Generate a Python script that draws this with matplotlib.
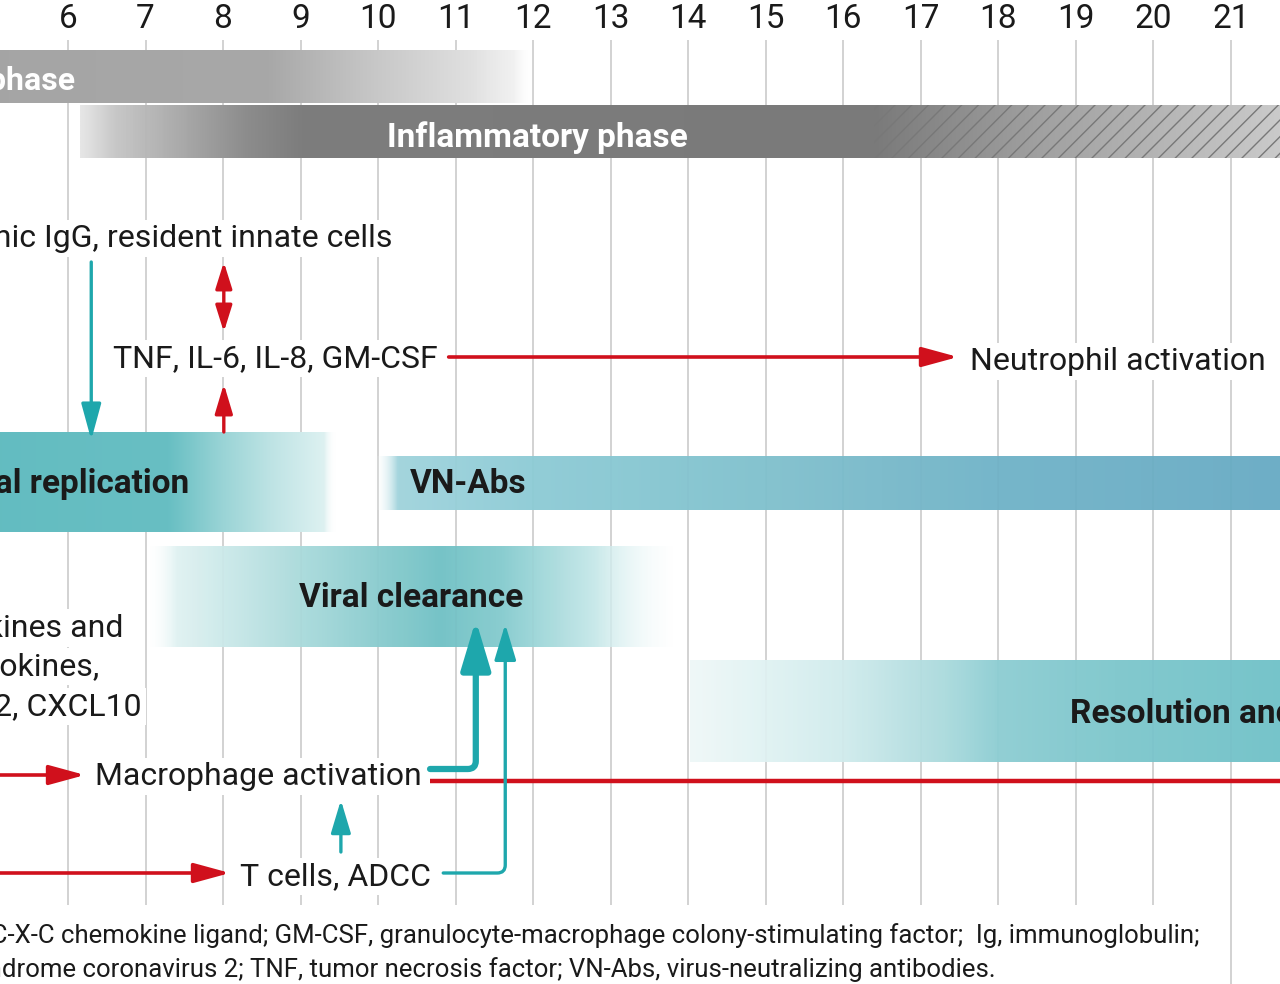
import numpy as np
import matplotlib
matplotlib.use("Agg")
import matplotlib.pyplot as plt
from matplotlib import font_manager
from matplotlib.colors import to_rgba
from matplotlib.patches import Rectangle

# --- Data (days after symptom onset) ---
days = list(range(6, 22))

phase_labels = ["Viral phase", "Inflammatory phase"]
phase_start = [3.0, 6.15]
phase_end = [12.0, 21.7]

process_labels = ["Viral replication", "VN-Abs", "Viral clearance", "Resolution and repair"]
process_start = [3.0, 10.0, 7.06, 14.02]
process_end = [9.45, 21.7, 13.8, 21.7]

innate_label = "Natural polyclonal, heterogenic IgG, resident innate cells"
cytokine_label = "TNF, IL-6, IL-8, GM-CSF"
neutrophil_label = "Neutrophil activation"
chemokine_lines = ["Proinflammatory cytokines and", "chemokines,", "CCL2, CXCL10"]
macrophage_label = "Macrophage activation"
tcell_label = "T cells, ADCC"
footnote_lines = [
    "ADCC, antibody-dependent cellular cytotoxicity; CXCL, C-X-C chemokine ligand; "
    "GM-CSF, granulocyte-macrophage colony-stimulating factor;  Ig, immunoglobulin;",
    "SARS-CoV-2, severe acute respiratory syndrome coronavirus 2; TNF, tumor necrosis factor; "
    "VN-Abs, virus-neutralizing antibodies.",
]

# --- Style ---
names = {f.name for f in font_manager.fontManager.ttflist}
FONT = "Roboto" if "Roboto" in names else "Liberation Sans"
plt.rcParams["font.family"] = [FONT, "DejaVu Sans"]

RED = "#d0101c"
TEAL = "#1ea7ac"
GRID = "#cfcfcf"
TXT = "#1a1a1a"
FS = 23


def gradient_band(ax, x0, x1, y0, y1, stops, zorder=1):
    """Horizontal gradient rectangle; stops = [(day, color, alpha), ...]"""
    xs = np.linspace(x0, x1, 600)
    pos = [s[0] for s in stops]
    cols = [to_rgba(s[1], s[2]) for s in stops]
    rgba = np.stack([np.interp(xs, pos, [c[i] for c in cols]) for i in range(4)], axis=-1)
    ax.imshow(rgba[None, :, :], extent=(x0, x1, y1, y0), aspect="auto",
              interpolation="bilinear", zorder=zorder)


fig = plt.figure(figsize=(12.8, 9.84), dpi=100)
ax = fig.add_axes([0, 0, 1, 1])
ax.set_autoscale_on(False)
XMIN, XMAX = 5.123, 21.633
ax.set_xlim(XMIN, XMAX)
ax.set_ylim(984, 0)
ax.axis("off")

# day ticks + grid
for d in days:
    ax.text(d, 28, str(d), ha="center", va="baseline", fontsize=FS + 1, color=TXT)
ax.vlines(days[:-1], 40, 905, color=GRID, lw=1.3, zorder=0)
ax.vlines(days[-1], 40, 984, color=GRID, lw=1.3, zorder=0)

# --- phase bands ---
gradient_band(ax, phase_start[0], phase_end[0], 50, 103,
              [(phase_start[0], "#a3a3a3", 1), (8.6, "#a8a8a8", 1), (9.8, "#c4c4c4", 1),
               (11.2, "#e0e0e0", 1), (11.75, "#eeeeee", 0.8), (phase_end[0], "#ffffff", 0)], zorder=3)
ax.text(6.09, 90, phase_labels[0], ha="right", va="baseline", fontsize=FS,
        fontweight="bold", color="white", zorder=6)

x0 = phase_start[1]
gradient_band(ax, x0, phase_end[1], 105, 158,
              [(x0, "#e4e4e4", 0.9), (6.6, "#c4c4c4", 0.95), (7.6, "#a4a4a4", 1), (8.3, "#8c8c8c", 1),
               (9.0, "#7d7d7d", 1), (16.4, "#7a7a7a", 1), (18.5, "#a0a0a0", 1),
               (phase_end[1], "#cbcbcb", 1)], zorder=3)
ax.add_patch(Rectangle((16.4, 105), phase_end[1] - 16.4, 53, facecolor="none",
                       edgecolor="#787878", hatch="//", lw=0, zorder=4))
ax.text(12.06, 147, phase_labels[1], ha="center", va="baseline", fontsize=FS + 1,
        fontweight="bold", color="white", zorder=6)

# --- process bands ---
s, e = process_start[0], process_end[0]
gradient_band(ax, s, e, 432, 532,
              [(s, "#5fbabf", 1), (7.3, "#68bfc3", 1), (8.0, "#9ad4d6", 1), (8.6, "#bde3e4", 1),
               (9.3, "#ddf1f1", 1), (e, "#ffffff", 0)], zorder=2)
ax.text(7.57, 493, process_labels[0], ha="right", va="baseline", fontsize=FS + 1,
        fontweight="bold", color=TXT, zorder=6)

s, e = process_start[1], process_end[1]
gradient_band(ax, s - 0.05, e, 456, 510,
              [(s - 0.05, "#ffffff", 0), (s + 0.25, "#9fd3dc", 0.95), (12.0, "#8ccbd5", 0.95),
               (15.0, "#7fc0cd", 0.95), (18.0, "#6fb2c7", 0.95), (e, "#66aac3", 0.95)], zorder=2)
ax.text(10.41, 493, process_labels[1], ha="left", va="baseline", fontsize=FS + 1,
        fontweight="bold", color=TXT, zorder=6)

s, e = process_start[2], process_end[2]
gradient_band(ax, s, e, 546, 647,
              [(s, "#ffffff", 0.3), (7.4, "#e0f2f2", 0.95), (9.0, "#a9dadb", 0.95),
               (10.8, "#6fc0c4", 0.95), (11.6, "#84cbce", 0.95), (12.8, "#c6e8e9", 0.95),
               (e, "#ffffff", 0.3)], zorder=2)
ax.text(10.43, 607, process_labels[2], ha="center", va="baseline", fontsize=FS + 1,
        fontweight="bold", color=TXT, zorder=6)

s, e = process_start[3], process_end[3]
gradient_band(ax, s, e, 660, 762,
              [(s, "#eef8f8", 0.9), (16.0, "#d0ebec", 0.95), (17.3, "#aadadd", 0.95),
               (18.0, "#8ccdd2", 0.95), (19.5, "#7cc6cc", 0.95), (e, "#6fc1c8", 0.95)], zorder=2)
ax.text(18.92, 723, process_labels[3], ha="left", va="baseline", fontsize=FS + 1,
        fontweight="bold", color=TXT, zorder=6)

# --- labels (white knock-out behind text hides the grid) ---
lab = dict(va="baseline", fontsize=FS, color=TXT, zorder=6,
           bbox=dict(facecolor="white", edgecolor="none", pad=3))
ax.text(10.18, 247, innate_label, ha="right", **lab)
ax.text(6.58, 367, cytokine_label, ha="left", **lab)
ax.text(17.63, 370, neutrophil_label, ha="left", **lab)
for line, xr, yb in zip(chemokine_lines, [6.71, 6.41, 6.95], [637, 675, 715]):
    ax.text(xr, yb, line, ha="right", **lab)
ax.text(6.35, 785, macrophage_label, ha="left", **lab)
ax.text(8.22, 885, tcell_label, ha="left", **lab)
for line, xr, yb in zip(footnote_lines, [20.6, 17.96], [943, 977]):
    ax.text(xr, yb, line, ha="right", va="baseline", fontsize=FS - 4.5,
            color=TXT, zorder=6)


# --- arrows ---
def arrow(start, end, color, lw, hl, hw, style="-|>", conn="arc3", ms=20):
    ax.annotate("", xy=end, xytext=start, zorder=5,
                arrowprops=dict(arrowstyle=f"{style},head_length={hl},head_width={hw}",
                                color=color, lw=lw, mutation_scale=ms,
                                shrinkA=0, shrinkB=0, connectionstyle=conn))


# innate -> viral replication
arrow((6.30, 262), (6.30, 440), TEAL, 2.4, 1.1, 0.3)
# double arrow and up arrow at day 8
arrow((8.01, 262), (8.01, 332), RED, 2.4, 0.8, 0.25, style="<|-|>")
arrow((8.01, 432), (8.01, 384), RED, 2.4, 0.9, 0.27)
# cytokines -> neutrophils
arrow((10.91, 357), (17.48, 357), RED, 2.6, 1.1, 0.3)
# chemokines -> macrophage, T cells
arrow((XMIN - 0.1, 775), (6.22, 775), RED, 2.6, 1.1, 0.3)
arrow((XMIN - 0.1, 873), (8.09, 873), RED, 2.6, 1.1, 0.3)
# macrophage line to the right
ax.plot([10.67, XMAX + 0.1], [781, 781], color=RED, lw=3.2, solid_capstyle="butt", zorder=5)
# T cells -> macrophage
arrow((9.52, 852), (9.52, 800), TEAL, 2.4, 1.0, 0.3)
# macrophage -> viral clearance (thick, bent)
arrow((10.67, 769), (11.26, 620), TEAL, 4.5, 1.5, 0.45,
      conn="angle,angleA=0,angleB=90,rad=8")
# T cells -> viral clearance (thin, bent)
arrow((10.84, 873), (11.64, 624), TEAL, 2.4, 1.1, 0.33,
      conn="angle,angleA=0,angleB=90,rad=8")

fig.savefig("out.png", dpi=100, facecolor="white")
